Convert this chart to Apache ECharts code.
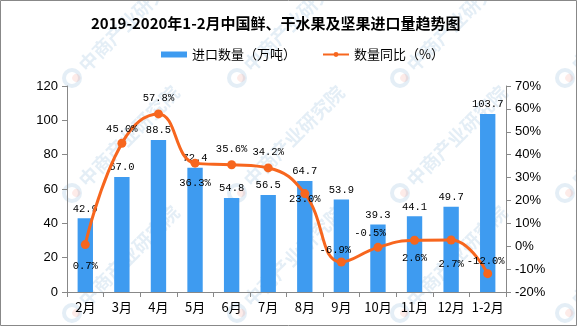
<!DOCTYPE html>
<html>
<head>
<meta charset="utf-8">
<script src="https://cdn.jsdelivr.net/npm/echarts@6/dist/echarts.min.js"></script>
<style>
html,body{margin:0;padding:0;background:#fff;}
#c{width:577px;height:327px;}
</style>
</head>
<body>
<div id="c"></div>
<script>
var categories = ['2月','3月','4月','5月','6月','7月','8月','9月','10月','11月','12月','1-2月'];
var importVolume = [42.9, 67.0, 88.5, 72.4, 54.8, 56.5, 64.7, 53.9, 39.3, 44.1, 49.7, 103.7];
var yoyPercent = [0.7, 45.0, 57.8, 36.3, 35.6, 34.2, 23.0, -6.9, -0.5, 2.6, 2.7, -12.0];
var leftTicks = {min: 0, max: 120, interval: 20};
var rightTicks = {min: -20, max: 70, interval: 10};

// label placement for the line values (style only)
var lineLabelPos = ['bottom','top','top','bottom','top','top','inside','top','top','bottom','bottom','top'];
var lineLabelOffset = [[0,6],[0,2],[0,0],[0,4],[0,0],[0,0],[0,6],[-6,4],[-8,2],[0,2],[0,8],[-2,4]];

var BLUE = '#3E9BF0';
var ORANGE = '#F7661E';
var MONO = '"Liberation Mono","DejaVu Sans Mono",monospace';
var SANS = '"Liberation Sans","Noto Sans CJK SC",sans-serif';

var lineData = yoyPercent.map(function(v, i){
  return {value: v, label: {position: lineLabelPos[i], offset: lineLabelOffset[i]}};
});

// watermark graphics
var wm = [];
var wx = [72, 237, 400, 565], wy = [78, 193, 313];
wx.forEach(function(x){ wy.forEach(function(y){
  wm.push({
    type: 'group', x: x, y: y, rotation: Math.PI/4, silent: true, z: -10,
    children: [
      {type: 'circle', shape: {cx: 0, cy: 0, r: 8}, style: {fill: 'none', stroke: 'rgba(120,170,210,0.2)', lineWidth: 4}},
      {type: 'circle', shape: {cx: 3, cy: 3, r: 4}, style: {fill: 'rgba(240,130,110,0.16)'}},
      {type: 'text', x: 14, y: 0, style: {text: '中商产业研究院', fill: 'rgba(120,170,210,0.2)', font: 'bold 19px "Noto Sans CJK SC"', textVerticalAlign: 'middle'}}
    ]
  });
}); });
wm.push({type: 'rect', shape: {x: 0.5, y: 0.5, width: 576, height: 325}, style: {fill: 'none', stroke: '#888', lineWidth: 1}, silent: true});

var chart = echarts.init(document.getElementById('c'), null, {renderer: 'canvas'});
chart.setOption({
  animation: false,
  backgroundColor: '#fff',
  title: {
    text: '2019-2020年1-2月中国鲜、干水果及坚果进口量趋势图',
    left: 86, top: 11,
    textStyle: {fontFamily: '"Noto Sans CJK SC"', fontWeight: 'bold', fontSize: 15, color: '#000'}
  },
  legend: {
    left: 156, top: 43,
    itemGap: 26, itemWidth: 26, itemHeight: 6,
    textStyle: {fontFamily: '"Noto Sans CJK SC"', fontSize: 13, color: '#000'},
    data: [
      {name: '进口数量（万吨）', icon: 'rect'},
      {name: '数量同比（%）'}
    ]
  },
  graphic: wm,
  grid: {left: 67, right: 71, top: 86, bottom: 35, containLabel: false},
  xAxis: {
    type: 'category', data: categories,
    axisLine: {lineStyle: {color: '#888'}},
    axisTick: {show: true, length: 5, interval: 0, lineStyle: {color: '#888'}},
    axisLabel: {interval: 0, color: '#000', fontFamily: '"Noto Sans CJK SC"', fontSize: 13, margin: 9}
  },
  yAxis: [
    {
      type: 'value', min: leftTicks.min, max: leftTicks.max, interval: leftTicks.interval,
      axisLine: {show: true, lineStyle: {color: '#888'}},
      axisTick: {show: true, length: 5, lineStyle: {color: '#888'}},
      splitLine: {show: false},
      axisLabel: {color: '#000', fontFamily: SANS, fontSize: 13, margin: 9}
    },
    {
      type: 'value', min: rightTicks.min, max: rightTicks.max, interval: rightTicks.interval,
      axisLine: {show: true, lineStyle: {color: '#888'}},
      axisTick: {show: true, length: 5, lineStyle: {color: '#888'}},
      splitLine: {show: false},
      axisLabel: {color: '#000', fontFamily: SANS, fontSize: 13, margin: 9, formatter: '{value}%'}
    }
  ],
  series: [
    {
      name: '进口数量（万吨）', type: 'bar', data: importVolume, yAxisIndex: 0,
      barWidth: '42%',
      itemStyle: {color: BLUE},
      label: {show: true, position: 'top', distance: 4, color: '#000', fontFamily: MONO, fontSize: 10.5,
        formatter: function(p){ return p.value.toFixed(1); }}
    },
    {
      name: '数量同比（%）', type: 'line', data: lineData, yAxisIndex: 1,
      smooth: 0.45, symbol: 'circle', symbolSize: 9,
      lineStyle: {color: ORANGE, width: 3},
      itemStyle: {color: ORANGE},
      label: {show: true, color: '#000', fontFamily: MONO, fontSize: 10.5, distance: 6,
        formatter: function(p){ return p.value.toFixed(1) + '%'; }},
      z: 5
    }
  ]
});
</script>
</body>
</html>
